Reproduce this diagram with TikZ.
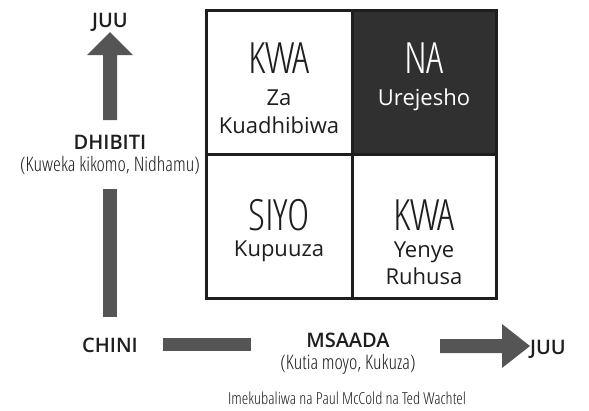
\documentclass[tikz,border=0pt]{standalone}
\usepackage{fontspec}
\setmainfont{Open Sans}
\newfontfamily\condf{OpenSans-CondLight.ttf}
\newfontfamily\semib{OpenSans-Semibold.ttf}
\definecolor{ink}{HTML}{1E1E1E}
\definecolor{arrowgray}{HTML}{555555}
\definecolor{darkcell}{HTML}{303030}
\tikzset{
  big/.style={font=\condf\fontsize{43}{43}\selectfont, text=ink, anchor=base, inner sep=0pt},
  sub/.style={font=\fontsize{22}{28}\selectfont, text=ink, anchor=base, inner sep=0pt},
  axis/.style={font=\semib\fontsize{20}{20}\selectfont, text=ink, anchor=base, inner sep=0pt},
  paren/.style={font=\condf\fontsize{20}{20}\selectfont, text=ink, anchor=base, inner sep=0pt},
  credit/.style={font=\condf\fontsize{16.5}{16.5}\selectfont, text=ink, anchor=base, inner sep=0pt},
  arrowfill/.style={fill=arrowgray, draw=none},
  grid/.style={draw=ink, line width=3pt}
}
\begin{document}
\begin{tikzpicture}[x=1pt,y=-1pt]
\useasboundingbox (0,0) rectangle (589,410);
\fill[white] (0,0) rectangle (589,410);
% grid
\fill[darkcell] (352,10) rectangle (496,154);
\draw[grid] (206,10) rectangle (496,298);
\draw[grid] (352,10) -- (352,298);
\draw[grid] (206,154) -- (496,154);
% cell texts
\node[big] (kwa1) at (279,73) {KWA};
\node[sub] (za) at (279,105) {Za};
\node[sub] (kuad) at (279,133) {Kuadhibiwa};
\node[big, text=white] (na) at (424,73) {NA};
\node[sub, text=white] (urej) at (424,105) {Urejesho};
\node[big] (siyo) at (279,230) {SIYO};
\node[sub] (kupu) at (279,256) {Kupuuza};
\node[big] (kwa2) at (424,230) {KWA};
\node[sub] (yenye) at (424,257) {Yenye};
\node[sub] (ruhu) at (424,284) {Ruhusa};
% vertical axis
\fill[arrowfill] (103,120) -- (103,55) -- (87,55) -- (110,32) -- (133,55) -- (117,55) -- (117,120) -- cycle;
\fill[arrowfill] (103,189) rectangle (117,317);
\node[axis] (juutop) at (110,27) {JUU};
\node[axis] (dhib) at (110,149) {DHIBITI};
\node[paren] (dhibp) at (110,171) {(Kuweka kikomo, Nidhamu)};
% horizontal axis
\node[axis] (chini) at (110,352) {CHINI};
\fill[arrowfill] (163,338) rectangle (251,351);
\fill[arrowfill] (440,339) -- (502,339) -- (502,324) -- (530,346) -- (502,368) -- (502,353) -- (440,353) -- cycle;
\node[axis] (juuright) at (548,354) {JUU};
\node[axis] (msaada) at (348,347) {MSAADA};
\node[paren] (msp) at (348,369) {(Kutia moyo, Kukuza)};
\node[credit] (cred) at (347,404) {Imekubaliwa na Paul McCold na Ted Wachtel};
\end{tikzpicture}
\end{document}
